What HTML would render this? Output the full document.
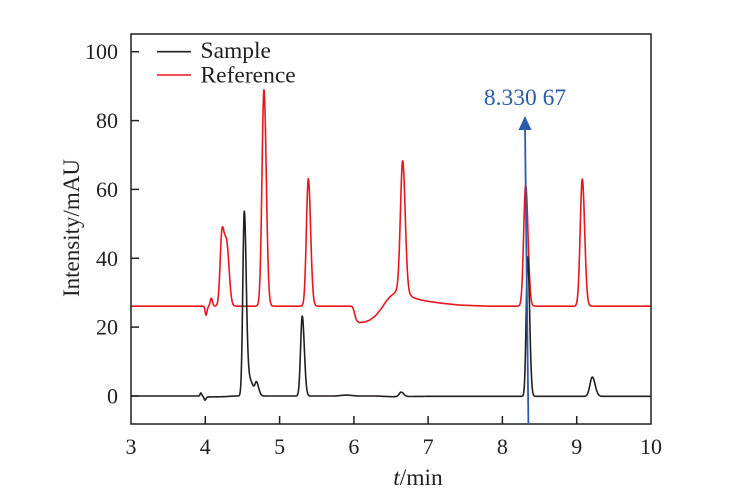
<!DOCTYPE html>
<html><head><meta charset="utf-8">
<style>
html,body{margin:0;padding:0;background:#fff;}
svg{display:block;}
text{font-family:"Liberation Serif","Times New Roman",serif;fill:#231f20;}
</style></head>
<body>
<svg id="s" width="743" height="493" viewBox="0 0 743 493" xmlns="http://www.w3.org/2000/svg">
<defs><clipPath id="c"><rect x="131" y="34" width="520" height="390"/></clipPath></defs>
<rect x="0" y="0" width="743" height="493" fill="#fff"/>
<g clip-path="url(#c)">
<path id="red" fill="none" stroke="#e8161e" stroke-width="1.6" stroke-linejoin="round"/>
<path id="blk" fill="none" stroke="#231f20" stroke-width="1.6" stroke-linejoin="round"/>
</g>
<rect x="131" y="34" width="520" height="390" fill="none" stroke="#231f20" stroke-width="1.5"/>
<g stroke="#231f20" stroke-width="1.5">
<line x1="131" y1="396" x2="139" y2="396"/>
<line x1="131" y1="327.1" x2="139" y2="327.1"/>
<line x1="131" y1="258.3" x2="139" y2="258.3"/>
<line x1="131" y1="189.4" x2="139" y2="189.4"/>
<line x1="131" y1="120.6" x2="139" y2="120.6"/>
<line x1="131" y1="51.7" x2="139" y2="51.7"/>
<line x1="205.3" y1="424" x2="205.3" y2="416"/>
<line x1="279.6" y1="424" x2="279.6" y2="416"/>
<line x1="353.9" y1="424" x2="353.9" y2="416"/>
<line x1="428.1" y1="424" x2="428.1" y2="416"/>
<line x1="502.4" y1="424" x2="502.4" y2="416"/>
<line x1="576.7" y1="424" x2="576.7" y2="416"/>
</g>
<g font-size="22" text-anchor="end">
<text x="118" y="403.5">0</text>
<text x="118" y="334.6">20</text>
<text x="118" y="265.8">40</text>
<text x="118" y="196.9">60</text>
<text x="118" y="128.1">80</text>
<text x="118" y="59.2">100</text>
</g>
<g font-size="22" text-anchor="middle">
<text x="131" y="454">3</text>
<text x="205.3" y="454">4</text>
<text x="279.6" y="454">5</text>
<text x="353.9" y="454">6</text>
<text x="428.1" y="454">7</text>
<text x="502.4" y="454">8</text>
<text x="576.7" y="454">9</text>
<text x="651" y="454">10</text>
</g>
<text x="418" y="485" font-size="23.5" text-anchor="middle"><tspan font-style="italic">t</tspan>/min</text>
<text transform="translate(79,228) rotate(-90)" font-size="23" text-anchor="middle">Intensity/mAU</text>
<line x1="157" y1="51.7" x2="191" y2="51.7" stroke="#231f20" stroke-width="1.6"/>
<line x1="157" y1="75" x2="191" y2="75" stroke="#e8161e" stroke-width="1.6"/>
<text x="200.5" y="58" font-size="23.5">Sample</text>
<text x="200.5" y="82.5" font-size="23.5">Reference</text>
<line x1="528.4" y1="424" x2="525" y2="126" stroke="#2a5caa" stroke-width="1.8"/>
<polygon points="525,116 518.5,130 531.5,130" fill="#2a5caa"/>
<text x="525" y="105" font-size="23.5" text-anchor="middle" style="fill:#2a5caa">8.330 67</text>
</svg>
<script>
(function(){
var X=function(t){return 131+(t-3)*74.2857;};
var Y=function(v){return 396-v*3.443;};
function g(t,c,h,sl,sr){var s=t<c?sl:(sr||sl);var d=t-c;return h*Math.exp(-d*d/(2*s*s));}
function lin(t,pts){
  if(t<=pts[0][0])return pts[0][1];
  for(var i=0;i<pts.length-1;i++){
    var a=pts[i],b=pts[i+1];
    if(t>=a[0]&&t<=b[0]){var u=(t-a[0])/(b[0]-a[0]);return a[1]+(b[1]-a[1])*u;}
  }
  return pts[pts.length-1][1];
}
function sm(t,pts,w){
  var s=0,n=0;
  for(var k=-6;k<=6;k++){var wt=Math.exp(-k*k/18);s+=wt*lin(t+k*w/6,pts);n+=wt;}
  return s/n;
}
var rOff=[[3,0],[5.975,0],[5.995,-0.8],[6.03,-4.0],[6.07,-4.8],[6.15,-4.6],[6.22,-4.0],[6.3,-2.6],[6.38,-0.4],[6.44,1.6],[6.5,3.0],[6.56,4.0],[6.6,4.4],[6.72,3.6],[6.8,2.5],[6.9,1.8],[7.0,1.4],[7.2,0.8],[7.43,0.3],[7.8,0],[10,0]];
var bOff=[[3,0],[3.98,0],[4.0,-0.3],[4.25,-0.2],[4.4,0],[5.75,0],[5.9,0.3],[6.05,0],[6.3,0],[6.5,-0.2],[7,-0.1],[10,-0.1]];
function red(t){
  var v=26.1+sm(t,rOff,0.02);
  v+=g(t,4.01,-2.6,0.012,0.014);
  v+=g(t,4.08,2.3,0.014,0.016);
  v+=g(t,4.225,21,0.025,0.03);
  v+=g(t,4.29,17,0.03,0.032);
  v+=g(t,4.79,62.8,0.027,0.031);
  v+=g(t,5.387,37,0.026,0.031);
  v+=g(t,6.657,38.2,0.03,0.034);
  v+=g(t,8.313,35.2,0.027,0.031);
  v+=g(t,9.075,36.9,0.028,0.032);
  return v;
}
function blk(t){
  var v=sm(t,bOff,0.03);
  v+=g(t,3.94,0.9,0.01,0.01);
  v+=g(t,3.995,-1.0,0.012,0.014);
  v+=g(t,4.525,53.2,0.02,0.026);
  v+=g(t,4.59,5,0.03,0.05);
  v+=g(t,4.69,3.5,0.02,0.03);
  v+=g(t,5.305,23.2,0.022,0.028);
  v+=g(t,6.635,1.3,0.025,0.035);
  v+=g(t,8.34,40.5,0.02,0.026);
  v+=g(t,9.21,5.6,0.032,0.038);
  return v;
}
function path(f){
  var d="";
  for(var i=0;i<=2800;i++){var t=3+i*0.0025;d+=(i?"L":"M")+X(t).toFixed(2)+" "+Y(f(t)).toFixed(2);}
  return d;
}
document.getElementById("red").setAttribute("d",path(red));
document.getElementById("blk").setAttribute("d",path(blk));
})();
</script>
</body></html>
